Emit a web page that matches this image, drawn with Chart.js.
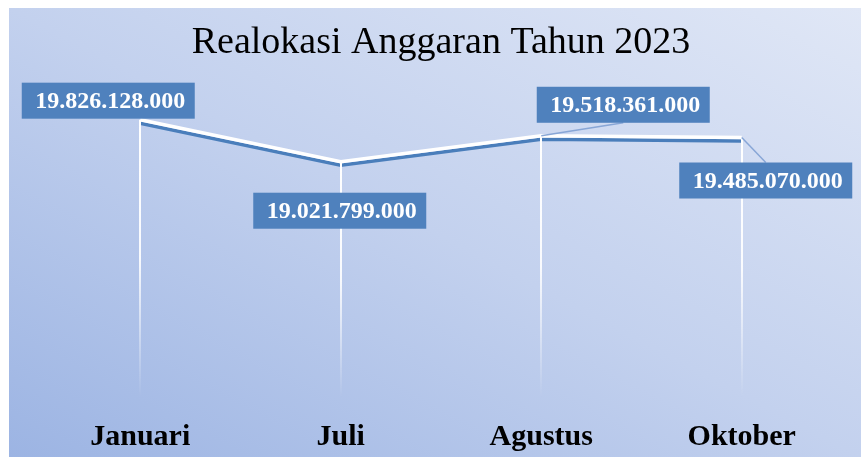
<!DOCTYPE html>
<html>
<head>
<meta charset="utf-8">
<script src="https://cdn.jsdelivr.net/npm/chart.js@4.4.0/dist/chart.umd.min.js"></script>
<style>
    body { margin: 0; background: #ffffff; }
    #box {
        position: absolute; left: 9px; top: 8px; width: 852px; height: 449px;
        background: linear-gradient(to top right, #9cb4e3 0%, #c3d1ee 50%, #e0e7f6 100%);
    }
</style>
</head>
<body>
<div id="box"><canvas id="lineChart"></canvas></div>
<script>
    var months = ['Januari', 'Juli', 'Agustus', 'Oktober'];
    var budget = [19826128000, 19021799000, 19518361000, 19485070000];

    var serif = '"Liberation Serif", "Times New Roman", serif';

    function formatRupiah(n) {
        return String(n).replace(/\B(?=(\d{3})+(?!\d))/g, '.');
    }

    // white line with a blue copy just under it
    const lineShadow = {
        id: 'lineShadow',
        beforeDatasetDraw(chart) {
            const ctx = chart.ctx;
            ctx.save();
            ctx.shadowColor = '#4a7ebb';
            ctx.shadowOffsetX = 0;
            ctx.shadowOffsetY = 3.5;
            ctx.shadowBlur = 0;
        },
        afterDatasetDraw(chart) {
            chart.ctx.restore();
        }
    };

    // drop lines and boxed value labels
    const dropAndLabels = {
        id: 'dropAndLabels',
        afterDatasetsDraw(chart, args, opts) {
            const ctx = chart.ctx;
            const area = chart.chartArea;
            const pts = chart.getDatasetMeta(0).data;

            pts.forEach(function (p) {
                const grad = ctx.createLinearGradient(0, p.y, 0, area.bottom);
                grad.addColorStop(0, 'rgba(255,255,255,1)');
                grad.addColorStop(0.5, 'rgba(255,255,255,0.9)');
                grad.addColorStop(0.8, 'rgba(255,255,255,0.35)');
                grad.addColorStop(1, 'rgba(255,255,255,0)');
                ctx.save();
                ctx.strokeStyle = grad;
                ctx.lineWidth = 2;
                ctx.beginPath();
                ctx.moveTo(Math.round(p.x), p.y);
                ctx.lineTo(Math.round(p.x), area.bottom);
                ctx.stroke();
                ctx.restore();
            });

            pts.forEach(function (p, i) {
                const cx = p.x + opts.offsets[i][0];
                const cy = p.y + opts.offsets[i][1];
                const w = 173, h = 36;

                if (opts.leader[i]) {
                    const ey = cy > p.y ? cy - h / 2 : cy + h / 2;
                    ctx.save();
                    ctx.strokeStyle = '#88a6d6';
                    ctx.lineWidth = 1.5;
                    ctx.beginPath();
                    ctx.moveTo(p.x, p.y);
                    ctx.lineTo(cx, ey);
                    ctx.stroke();
                    ctx.restore();
                }

                ctx.save();
                ctx.fillStyle = '#4f81bd';
                ctx.fillRect(cx - w / 2, cy - h / 2, w, h);
                ctx.fillStyle = '#ffffff';
                ctx.font = 'bold 24px ' + serif;
                ctx.textAlign = 'center';
                ctx.textBaseline = 'middle';
                ctx.fillText(formatRupiah(budget[i]), cx + 2, cy + 1);
                ctx.restore();
            });
        }
    };

    const ctx = document.getElementById('lineChart').getContext('2d');
    new Chart(ctx, {
        type: 'line',
        data: {
            labels: months,
            datasets: [{
                label: 'Realokasi',
                data: budget,
                borderColor: '#ffffff',
                borderWidth: 3.5,
                tension: 0,
                pointRadius: 0,
                fill: false
            }]
        },
        options: {
            responsive: true,
            maintainAspectRatio: false,
            animation: false,
            layout: { padding: { left: 31, right: 19, top: 0, bottom: -11 } },
            plugins: {
                legend: { display: false },
                tooltip: { enabled: false },
                title: {
                    display: true,
                    text: 'Realokasi Anggaran Tahun 2023',
                    color: '#000000',
                    font: { family: serif, size: 38, weight: 'normal' },
                    padding: { top: 12, bottom: 45 }
                },
                dropAndLabels: {
                    offsets: [[-32, -19], [-1, 49], [82, -31], [24, 43]],
                    leader: [false, false, true, true]
                }
            },
            scales: {
                x: {
                    offset: true,
                    grid: { display: false },
                    border: { display: false },
                    ticks: {
                        color: '#000000',
                        padding: 13,
                        font: { family: serif, size: 30, weight: 'bold' }
                    }
                },
                y: {
                    display: false,
                    min: 14500000000,
                    max: 20000000000
                }
            }
        },
        plugins: [lineShadow, dropAndLabels]
    });
</script>
</body>
</html>
